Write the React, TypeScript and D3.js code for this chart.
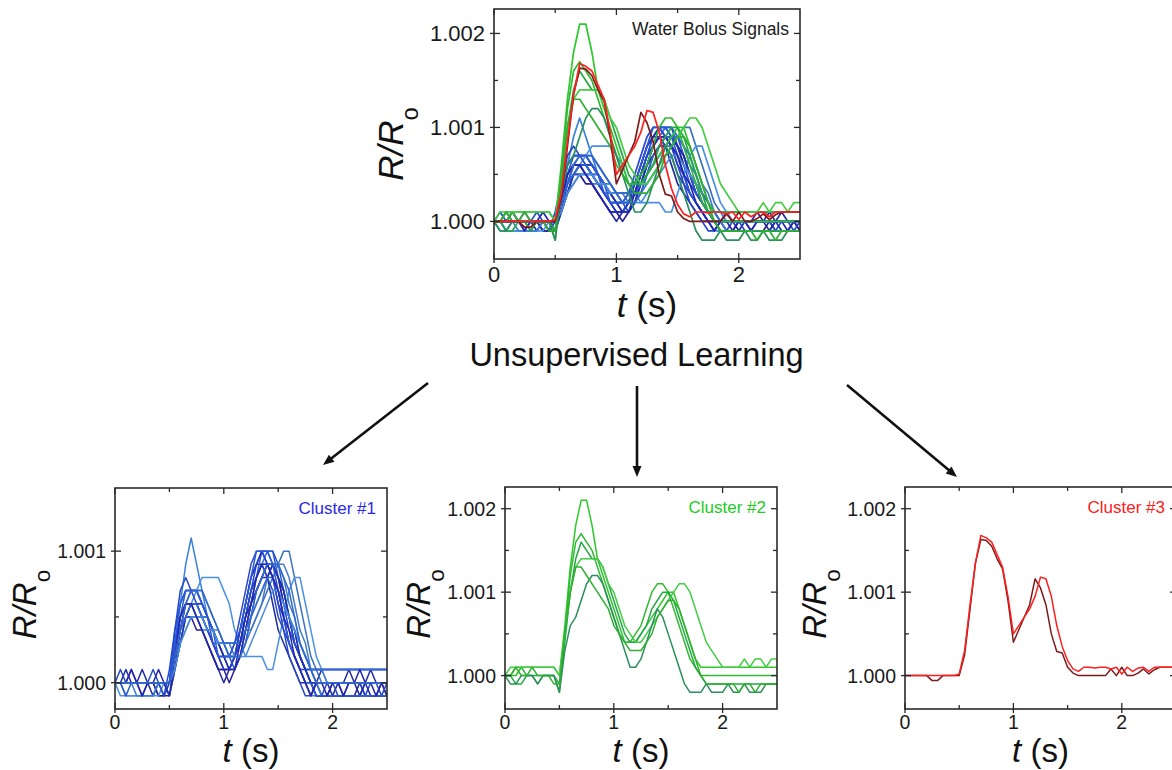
import React from 'react';
import * as d3 from 'd3';

// Sampling grid of the resistance traces (seconds)
const SAMPLE_STEP = 0.05;
const SAMPLE_COUNT = 51;
const timeS: number[] = d3.range(SAMPLE_COUNT).map((i) => +(i * SAMPLE_STEP).toFixed(2));

// Trace values are stored as (R/Ro - 1) in units of 1e-4
const UNIT = 1e-4;

// Cluster #1 — double-hump bolus responses (blue family)
const cluster1: number[][] = [
  [0,0,1,0,0,1,0,-1,0,0, 0,3,5,6,6,5,4,3,2,1, 0,1,2,4,6,8,9,9,8,6, 4,3,2,1,0,0,-1,0,1,0, -1,0,0,1,0,-1,0,1,0,0,-1],
  [0,0,0,0,0,0,0,0,-1,-1, 1,4,6,7,7,7,6,5,4,3, 2,2,2,3,5,7,9,10,10,10, 8,6,4,3,2,1,1,1,1,1, 1,1,1,1,1,1,1,1,1,1,1],
  [0,0,-1,-1,-1,-1,-1,-1,0,0, 0,3,6,9,11,9,7,5,4,3, 3,3,3,4,5,7,8,9,9,8, 7,5,3,2,1,0,-1,-1,-1,-1, -1,-1,-1,-1,-1,-1,-1,-1,-1,-1,-1],
  [0,0,0,0,0,0,0,0,0,-1, 0,2,5,7,7,7,6,5,3,2, 1,1,2,3,5,7,8,10,10,10, 9,7,5,3,2,1,0,0,0,0, 0,0,0,0,0,0,0,0,0,0,0],
  [0,0,0,1,0,0,0,0,-1,-1, -1,2,4,5,5,4,4,3,2,1, 1,0,1,2,4,6,7,8,9,9, 8,6,5,3,2,1,0,-1,-1,-1, 0,0,-1,-1,-1,0,-1,-1,-1,0,-1],
  [0,0,0,0,0,0,0,0,0,0, 0,2,4,6,7,7,7,6,5,4, 3,2,2,3,4,6,8,9,10,9, 8,7,5,4,2,1,1,1,1,1, 1,1,1,1,1,1,1,1,1,1,1],
  [0,0,0,0,0,0,0,0,0,0, 0,1,3,5,6,6,6,5,4,3, 3,3,3,3,4,4,5,6,7,8, 9,10,10,8,6,4,2,1,0,0, 0,0,0,0,0,0,0,0,0,0,0],
  [0,-1,-1,-1,-1,-1,-1,-1,-1,0, 0,1,3,5,6,7,8,8,8,8, 7,6,4,3,2,2,2,2,1,1, 3,5,7,8,8,6,4,2,1,0, 0,0,0,0,0,0,0,0,0,0,0],
  [0,0,0,0,0,0,0,1,0,0, 0,2,4,5,5,5,5,4,4,3, 2,2,1,2,3,5,7,8,9,9, 8,7,5,3,2,1,0,0,-1,-1, -1,-1,-1,-1,-1,-1,-1,-1,-1,-1,-1],
  [0,0,0,0,0,0,0,0,0,0, -1,1,4,6,6,6,5,4,3,2, 1,1,2,4,6,8,9,10,9,8, 6,5,3,2,1,0,0,0,0,0, 0,0,0,0,0,0,0,0,0,0,0],
  [0,0,0,0,-1,-1,-1,-1,0,0, 0,2,5,6,6,5,4,4,3,3, 3,3,3,3,4,5,6,7,8,9, 9,8,6,5,3,2,1,0,0,0, 0,0,0,0,0,0,0,0,0,0,0],
  [0,1,0,0,0,-1,0,0,0,-1, 0,4,7,8,7,6,5,4,3,2, 2,1,2,3,5,7,8,9,8,7, 5,4,2,1,0,-1,-1,0,-1,0, 0,-1,-1,0,0,0,-1,0,0,-1,0],
  [0,0,0,0,0,0,0,0,0,0, 0,2,3,4,5,5,5,5,4,4, 3,3,2,2,3,4,5,6,8,9, 9,9,8,6,4,3,1,0,-1,-1, -1,-1,-1,-1,-1,-1,-1,-1,-1,-1,-1],
  [0,0,0,0,0,0,0,0,0,0, 0,3,5,6,6,6,5,4,3,2, 2,2,3,5,7,9,10,10,9,8, 6,4,3,2,1,1,1,1,1,1, 1,1,1,1,1,1,1,1,1,1,1],
  [0,0,0,0,0,0,0,0,0,0, -1,1,3,5,6,6,6,5,4,3, 2,1,1,2,4,6,7,8,8,9, 8,7,5,4,2,1,0,-1,-1,-1, -1,-1,-1,-1,-1,-1,0,-1,-1,-1,-1],
  [0,0,0,0,0,0,0,0,0,0, 0,2,4,5,6,6,5,5,4,3, 3,3,3,3,4,5,6,7,8,8, 7,6,5,4,3,2,1,1,1,1, 1,1,1,1,1,1,1,1,1,1,1],
  [0,0,-1,0,0,0,0,0,0,0, 0,3,6,7,7,7,6,5,4,2, 2,2,3,4,6,8,10,10,10,9, 7,5,3,2,1,0,0,-1,-1,-1, -1,-1,-1,-1,-1,-1,-1,-1,-1,-1,-1],
  [0,0,0,0,0,0,0,0,0,0, 0,1,3,4,5,5,5,4,4,3, 3,2,2,2,2,3,4,5,6,7, 7,6,5,4,3,2,1,0,0,0, 0,0,0,0,0,0,0,0,0,0,0],
  [0,0,0,1,0,-1,0,0,1,0, 0,2,5,6,6,5,4,3,2,1, 1,1,1,3,5,6,8,9,9,8, 7,5,4,2,1,0,-1,0,0,-1, 0,0,-1,0,0,1,0,0,-1,0,0],
  [0,0,0,0,0,0,0,0,0,0, 0,2,4,6,7,7,7,6,5,4, 3,2,2,2,3,5,7,8,9,9, 9,8,7,5,3,2,1,0,0,0, 0,0,0,0,0,0,0,0,0,0,0],
];
const cluster1Colors: string[] = [
  '#1f2a9e', '#2348dc', '#3a80dc', '#2a5ad2', '#2b1f90', '#3370e0', '#3a72bc', '#4a90e4',
  '#2550cc', '#2236b8', '#3a7ed4', '#2648c4', '#4278d0', '#2c46d4', '#1f2cac', '#356ad4',
  '#2958d8', '#4a8cdc', '#2424b0', '#3066cc',
];

// Cluster #2 — strong first hump (green family)
const cluster2: number[][] = [
  [0,0,1,1,1,1,1,1,1,1, 0,6,13,18,21,21,18,14,12,10, 8,6,4,4,4,5,6,7,8,9, 10,10,8,6,4,2,1,1,1,1, 1,1,1,1,1,1,1,1,1,1,1],
  [0,0,0,1,0,0,-1,0,0,0, -2,5,12,16,17,16,15,13,11,9, 7,5,4,4,5,6,8,10,11,11, 10,8,6,4,2,1,0,0,0,0, 0,0,0,0,0,0,0,0,0,0,0],
  [0,0,-1,-1,0,0,0,0,0,0, -1,4,10,14,16,15,14,14,13,11, 9,7,5,4,4,5,6,8,9,10, 10,9,7,5,3,1,0,-1,-1,-1, -1,-1,-1,-1,-1,-1,-1,-1,-1,-1,-1],
  [0,1,1,1,1,1,1,1,1,1, 0,5,10,13,14,14,14,14,13,11, 10,8,6,5,4,4,5,6,7,8, 9,10,11,11,10,8,6,4,3,2, 1,1,1,1,2,1,2,2,1,2,2],
  [0,-1,-1,0,0,0,-1,0,0,0, -2,3,6,7,9,11,12,12,11,9, 7,5,3,1,1,2,4,6,8,7, 5,3,1,-1,-2,-2,-2,-1,-2,-2, -2,-1,-2,-2,-1,-2,-2,-2,-1,-1,-1],
  [0,0,1,0,0,1,0,0,0,-1, -1,5,10,13,13,12,11,10,9,8, 6,5,4,3,3,3,4,5,7,8, 9,9,8,6,4,2,0,-1,-1,-1, -1,-1,-1,-2,-1,-1,-2,-1,-1,-1,-1],
];
const cluster2Colors: string[] = ['#2cc82c', '#33b833', '#22a844', '#44cc44', '#2a8f5c', '#30b030'];

// Cluster #3 — early second hump (red family); the bright trace is drawn last
const cluster3: number[][] = [
  [0,0,0,0,0,-0.6,-0.6,0,0,0, 0,2.5,8,13.5,16.3,16.2,15.5,14,12.8,9, 4,5.5,7,8.5,11.6,10.5,8.5,5,2.9,2.7, 1,0.3,0,0,0,0,0,0,0.8,0, 1,0,0,0.3,0.8,0.2,0.7,1,1,1,1],
  [0,0,0,0,0,0,0,0,0,0, 0.2,3,8.5,13.5,16.8,16.5,16,14.5,13,9.5, 5,6,7,8,9.5,11.8,11.6,9.5,6,3.5, 1.8,0.8,0.5,1,1,0.9,1,1,0.8,1, 0.2,1,0.5,0.9,1,0.5,1,1,1,1,1],
];
const cluster3Colors: string[] = ['#7e1a1a', '#ff1f1f'];

const X_DOMAIN: [number, number] = [0, 2.5];
const X_MAJOR = [0, 1, 2];
const X_MINOR = [0.5, 1.5];
const Y_MAJOR = [1.0, 1.001, 1.002];
const Y_MINOR = [0.9995, 1.0005, 1.0015];

const FONT = "'Liberation Sans', Arial, Helvetica, sans-serif";

type Trace = { values: number[]; color: string };

const toTraces = (rows: number[][], colors: string[]): Trace[] =>
  rows.map((values, i) => ({ values, color: colors[i % colors.length] }));

const tracesBlue = toTraces(cluster1, cluster1Colors);
const tracesGreen = toTraces(cluster2, cluster2Colors);
const tracesRed = toTraces(cluster3, cluster3Colors);

type PanelSpec = {
  id: string;
  left: number;
  top: number;
  width: number;
  height: number;
  yDomain: [number, number];
  traces: Trace[];
  label: string;
  labelColor: string;
  tickFont: number;
  titleFont: number;
  labelFont: number;
  yTitleOffset: number;
  yTitleShift: number;
  xTitleGap: number;
  xTickGap: number;
  strokeWidth: number;
};

const panels: PanelSpec[] = [
  {
    id: 'all', left: 494, top: 9, width: 306, height: 250,
    yDomain: [0.9996, 1.00226],
    traces: [...tracesBlue, ...tracesGreen, ...tracesRed],
    label: 'Water Bolus Signals', labelColor: '#1a1a1a',
    tickFont: 22, titleFont: 35, labelFont: 17.5,
    yTitleOffset: 91, yTitleShift: 10, xTitleGap: 58, xTickGap: 23, strokeWidth: 1.7,
  },
  {
    id: 'c1', left: 115, top: 488, width: 272, height: 221,
    yDomain: [0.9998, 1.00148],
    traces: tracesBlue,
    label: 'Cluster #1', labelColor: '#2a2ae6',
    tickFont: 19.5, titleFont: 33, labelFont: 17,
    yTitleOffset: 79, yTitleShift: 6, xTitleGap: 53, xTickGap: 20, strokeWidth: 1.5,
  },
  {
    id: 'c2', left: 505, top: 487, width: 272, height: 222,
    yDomain: [0.9996, 1.00226],
    traces: tracesGreen,
    label: 'Cluster #2', labelColor: '#22cc22',
    tickFont: 19.5, titleFont: 33, labelFont: 17,
    yTitleOffset: 75, yTitleShift: 6, xTitleGap: 53, xTickGap: 20, strokeWidth: 1.5,
  },
  {
    id: 'c3', left: 905, top: 487, width: 271, height: 222,
    yDomain: [0.9996, 1.00226],
    traces: tracesRed,
    label: 'Cluster #3', labelColor: '#ff2020',
    tickFont: 19.5, titleFont: 33, labelFont: 17,
    yTitleOffset: 79, yTitleShift: 6, xTitleGap: 53, xTickGap: 20, strokeWidth: 1.5,
  },
];

const fmtY = d3.format('.3f');

function Panel({ p }: { p: PanelSpec }) {
  const x = d3.scaleLinear().domain(X_DOMAIN).range([p.left, p.left + p.width]);
  const y = d3.scaleLinear().domain(p.yDomain).range([p.top + p.height, p.top]);
  const line = d3
    .line<number>()
    .x((_, i) => x(timeS[i]))
    .y((v) => y(1 + v * UNIT));

  const right = p.left + p.width;
  const bottom = p.top + p.height;
  const inY = (v: number) => v >= p.yDomain[0] && v <= p.yDomain[1];
  const majorIn = 6;
  const majorOut = 4;
  const minorIn = 4;
  const axisColor = '#2a2a2a';

  return (
    <g>
      <defs>
        <clipPath id={`clip-${p.id}`}>
          <rect x={p.left} y={p.top} width={p.width} height={p.height} />
        </clipPath>
      </defs>

      <g clipPath={`url(#clip-${p.id})`}>
        {p.traces.map((t, i) => (
          <path
            key={i}
            d={line(t.values) ?? ''}
            fill="none"
            stroke={t.color}
            strokeWidth={p.strokeWidth}
            strokeLinejoin="round"
          />
        ))}
      </g>

      {/* ticks on all four sides */}
      <g stroke={axisColor} strokeWidth={1.3}>
        {X_MAJOR.map((v) => (
          <g key={`xm${v}`}>
            <line x1={x(v)} x2={x(v)} y1={bottom - majorIn} y2={bottom + majorOut} />
            <line x1={x(v)} x2={x(v)} y1={p.top} y2={p.top + majorIn} />
          </g>
        ))}
        {X_MINOR.map((v) => (
          <g key={`xn${v}`}>
            <line x1={x(v)} x2={x(v)} y1={bottom - minorIn} y2={bottom} />
            <line x1={x(v)} x2={x(v)} y1={p.top} y2={p.top + minorIn} />
          </g>
        ))}
        {Y_MAJOR.filter(inY).map((v) => (
          <g key={`ym${v}`}>
            <line x1={p.left - majorOut} x2={p.left + majorIn} y1={y(v)} y2={y(v)} />
            <line x1={right - majorIn} x2={right} y1={y(v)} y2={y(v)} />
          </g>
        ))}
        {Y_MINOR.filter(inY).map((v) => (
          <g key={`yn${v}`}>
            <line x1={p.left} x2={p.left + minorIn} y1={y(v)} y2={y(v)} />
            <line x1={right - minorIn} x2={right} y1={y(v)} y2={y(v)} />
          </g>
        ))}
      </g>

      <rect
        x={p.left}
        y={p.top}
        width={p.width}
        height={p.height}
        fill="none"
        stroke={axisColor}
        strokeWidth={1.6}
      />

      {/* tick labels */}
      <g fontFamily={FONT} fontSize={p.tickFont} fill="#1a1a1a">
        {X_MAJOR.map((v) => (
          <text key={`xl${v}`} x={x(v)} y={bottom + p.xTickGap} textAnchor="middle">
            {v}
          </text>
        ))}
        {Y_MAJOR.filter(inY).map((v) => (
          <text
            key={`yl${v}`}
            x={p.left - 9}
            y={y(v)}
            textAnchor="end"
            dominantBaseline="central"
          >
            {fmtY(v)}
          </text>
        ))}
      </g>

      {/* axis titles */}
      <text
        x={(p.left + right) / 2}
        y={bottom + p.xTitleGap}
        textAnchor="middle"
        fontFamily={FONT}
        fontSize={p.titleFont}
        fill="#111"
      >
        <tspan fontStyle="italic">t</tspan>
        <tspan>{' (s)'}</tspan>
      </text>
      <text
        transform={`translate(${p.left - p.yTitleOffset},${(p.top + bottom) / 2 + p.yTitleShift}) rotate(-90)`}
        textAnchor="middle"
        fontFamily={FONT}
        fontSize={p.titleFont}
        fill="#111"
      >
        <tspan fontStyle="italic">R/R</tspan>
        <tspan fontSize={p.titleFont * 0.68} dy={p.titleFont * 0.42}>
          o
        </tspan>
      </text>

      {/* panel caption */}
      <text
        x={right - 11}
        y={p.top + 26}
        textAnchor="end"
        fontFamily={FONT}
        fontSize={p.labelFont}
        fill={p.labelColor}
      >
        {p.label}
      </text>
    </g>
  );
}

function Arrow({ x1, y1, x2, y2 }: { x1: number; y1: number; x2: number; y2: number }) {
  const dx = x2 - x1;
  const dy = y2 - y1;
  const len = Math.hypot(dx, dy);
  const ux = dx / len;
  const uy = dy / len;
  const headLen = 11;
  const headHalf = 4.5;
  const bx = x2 - ux * headLen;
  const by = y2 - uy * headLen;
  const px = -uy;
  const py = ux;
  return (
    <g>
      <line x1={x1} y1={y1} x2={bx + ux} y2={by + uy} stroke="#111" strokeWidth={2.6} />
      <polygon
        points={`${x2},${y2} ${bx + px * headHalf},${by + py * headHalf} ${bx - px * headHalf},${by - py * headHalf}`}
        fill="#111"
      />
    </g>
  );
}

export default function App() {
  return (
    <svg
      width={1172}
      height={770}
      viewBox="0 0 1172 770"
      style={{ position: 'absolute', left: 0, top: 0, background: '#fff' }}
    >
      <rect x={0} y={0} width={1172} height={770} fill="#fff" />
      {panels.map((p) => (
        <Panel key={p.id} p={p} />
      ))}
      <text
        x={636.5}
        y={366}
        textAnchor="middle"
        fontFamily={FONT}
        fontSize={32.5}
        fill="#111"
      >
        Unsupervised Learning
      </text>
      <Arrow x1={428} y1={383} x2={323} y2={465} />
      <Arrow x1={637} y1={386} x2={637} y2={477} />
      <Arrow x1={847} y1={385} x2={957} y2={477} />
    </svg>
  );
}
